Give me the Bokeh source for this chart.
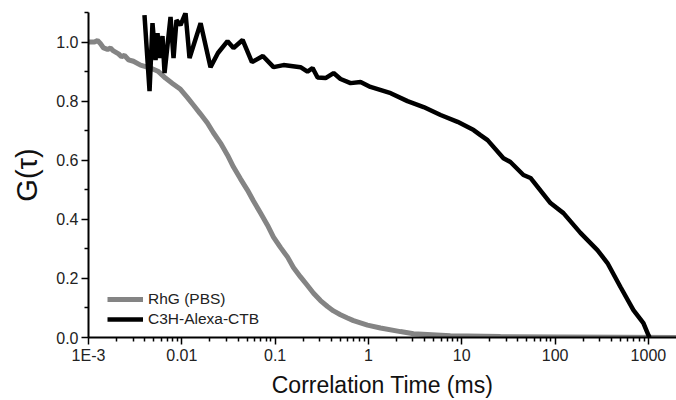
import numpy as np
from bokeh.plotting import figure
from bokeh.models import Range1d, FixedTicker
from bokeh.embed import file_html
from bokeh.resources import INLINE

# ---- data ----
rhg_t = [0.001, 0.00116, 0.00125, 0.00134, 0.00145, 0.0016, 0.00172, 0.00185,
         0.0021, 0.00226, 0.00243, 0.00268, 0.00303, 0.00361, 0.00462, 0.00562,
         0.00668, 0.00794, 0.00968, 0.0115, 0.0133, 0.0158, 0.0188, 0.0218,
         0.026, 0.0309, 0.0358, 0.0425, 0.0505, 0.0586, 0.0697, 0.0828, 0.096,
         0.114, 0.136, 0.157, 0.187, 0.222, 0.258, 0.306, 0.364, 0.422, 0.501,
         0.596, 0.691, 0.976, 1.345, 2.2, 3.04, 7.56, 26, 114, 502, 2000]
rhg_g = [1.00, 1.00, 1.005, 0.995, 0.98, 0.975, 0.98, 0.97,
         0.96, 0.95, 0.955, 0.94, 0.935, 0.922, 0.912, 0.90,
         0.878, 0.86, 0.84, 0.812, 0.787, 0.757, 0.726, 0.693,
         0.658, 0.617, 0.577, 0.537, 0.499, 0.462, 0.421, 0.38, 0.34,
         0.305, 0.272, 0.237, 0.205, 0.176, 0.15, 0.125, 0.105, 0.09, 0.077,
         0.066, 0.057, 0.042, 0.032, 0.02, 0.013, 0.006, 0.003, 0.002, 0.001, 0.0]

ctb_t = [0.00398, 0.00451, 0.00485, 0.00523, 0.00549, 0.00577, 0.00621, 0.00653,
         0.00757, 0.00815, 0.00877, 0.00968, 0.01096, 0.0121, 0.0159, 0.0203,
         0.0244, 0.0309, 0.0358, 0.0448, 0.0564, 0.0739, 0.0962, 0.123,
         0.187, 0.222, 0.252, 0.285, 0.347, 0.423, 0.502, 0.643, 0.823, 1.05,
         1.73, 2.62, 3.90, 5.93, 9.02, 13.4, 15.85, 18.9, 27.96, 33.2, 45.8, 54.5,
         89.2, 122.9, 186.9, 284, 364, 502, 691, 884, 1000, 1030]
ctb_g = [1.091, 0.834, 1.064, 0.939, 1.03, 0.946, 1.02, 0.895,
         1.085, 0.946, 1.074, 1.057, 1.098, 0.946, 1.064, 0.915,
         0.963, 1.003, 0.98, 1.007, 0.932, 0.953, 0.915, 0.922,
         0.915, 0.90, 0.912, 0.88, 0.878, 0.895, 0.875, 0.861, 0.865, 0.848,
         0.827, 0.80, 0.78, 0.753, 0.73, 0.702, 0.685, 0.668, 0.607, 0.594, 0.55, 0.54,
         0.455, 0.421, 0.354, 0.296, 0.252, 0.171, 0.093, 0.049, 0.008, 0.0]

x_tick_values = [0.001, 0.01, 0.1, 1, 10, 100, 1000]
x_tick_labels = ["1E-3", "0.01", "0.1", "1", "10", "100", "1000"]
y_tick_values = [0.0, 0.2, 0.4, 0.6, 0.8, 1.0]
y_tick_labels = ["0.0", "0.2", "0.4", "0.6", "0.8", "1.0"]
y_minor_values = [0.1, 0.3, 0.5, 0.7, 0.9, 1.1]

series_names = ["RhG (PBS)", "C3H-Alexa-CTB"]
series_colors = ["#848484", "#000000"]

FONT = "Liberation Sans"

p = figure(width=676, height=400, x_axis_type="log",
           x_range=Range1d(0.001, 2000), y_range=Range1d(0, 1.1),
           output_backend="svg", toolbar_location=None,
           min_border_left=88, min_border_right=0, min_border_top=12,
           min_border_bottom=62)
p.outline_line_color = None
p.xgrid.visible = False
p.ygrid.visible = False

x_minor = [k * d for d in x_tick_values[:-1] for k in range(2, 10)]
p.xaxis.ticker = FixedTicker(ticks=x_tick_values, minor_ticks=x_minor)
p.xaxis.major_label_overrides = {v: l for v, l in zip(x_tick_values, x_tick_labels)}
p.yaxis.ticker = FixedTicker(ticks=y_tick_values, minor_ticks=y_minor_values)
p.yaxis.major_label_overrides = {v: l for v, l in zip(y_tick_values, y_tick_labels)}

for ax in (p.xaxis[0], p.yaxis[0]):
    ax.axis_line_width = 2
    ax.axis_line_color = "black"
    ax.major_tick_line_width = 1.5
    ax.minor_tick_line_width = 1.5
    ax.major_tick_in = 0
    ax.minor_tick_in = 0
    ax.major_tick_out = 7
    ax.minor_tick_out = 4
    ax.major_label_text_font = FONT
    ax.major_label_text_font_size = "16px"
    ax.major_label_text_color = "#222222"
    ax.axis_label_text_font = FONT
    ax.axis_label_text_font_style = "normal"
    ax.axis_label_text_color = "#111111"

p.xaxis.axis_label = "Correlation Time (ms)"
p.xaxis.axis_label_text_font_size = "23px"
p.xaxis.axis_label_standoff = 5
p.xaxis.major_label_standoff = 2
p.yaxis.axis_label = "G(\u03c4)"
p.yaxis.axis_label_text_font_size = "29px"
p.yaxis.axis_label_standoff = 10
p.yaxis.major_label_standoff = 3

p.line(rhg_t, rhg_g, line_color=series_colors[0], line_width=5,
       legend_label=series_names[0])
p.line(ctb_t, ctb_g, line_color=series_colors[1], line_width=4.5,
       legend_label=series_names[1])

lg = p.legend[0]
lg.location = (19, 8)
lg.padding = 0
lg.margin = 0
lg.spacing = 0
lg.background_fill_alpha = 0
lg.border_line_alpha = 0
lg.glyph_width = 36
lg.glyph_height = 20
lg.label_height = 20
lg.label_standoff = 5
lg.label_text_font = FONT
lg.label_text_font_size = "15.5px"
lg.label_text_color = "#222222"

open("out.html", "w").write(file_html(p, INLINE))
